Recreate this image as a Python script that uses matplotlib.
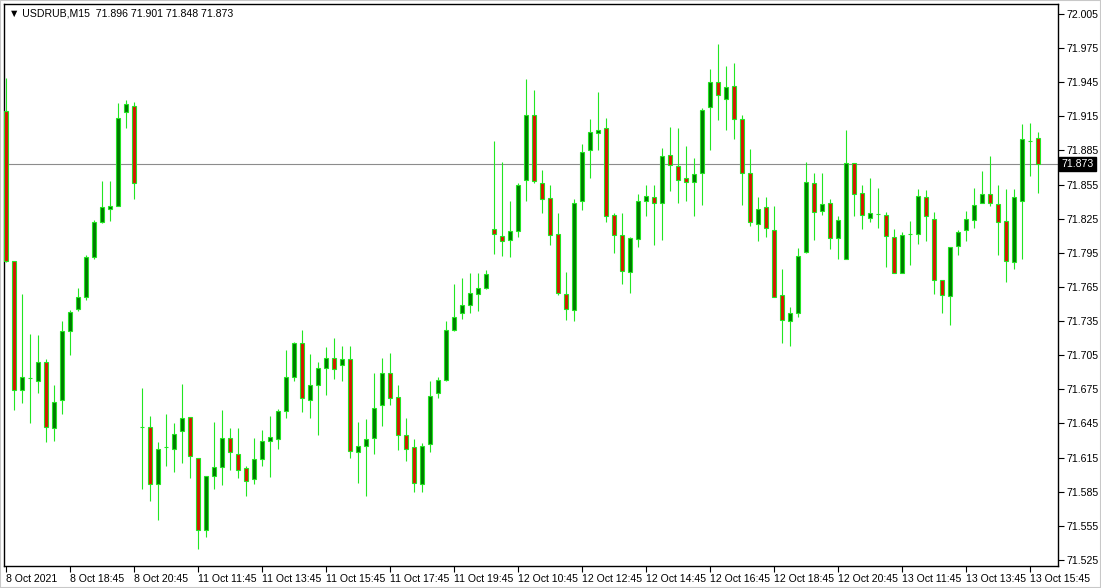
import numpy as np
import matplotlib.pyplot as plt
from matplotlib.patches import Rectangle

plt.rcParams['font.family'] = ['Liberation Sans', 'DejaVu Sans']

# USDRUB M15 bars (open, high, low, close)
opens = [71.920, 71.788, 71.674, 71.685, 71.682, 71.699, 71.641, 71.666, 71.726, 71.746,
         71.756, 71.791, 71.822, 71.834, 71.836, 71.919, 71.924, 71.642, 71.642, 71.592,
         71.624, 71.623, 71.638, 71.651, 71.615, 71.551, 71.599, 71.607, 71.632, 71.618,
         71.606, 71.596, 71.614, 71.630, 71.631, 71.656, 71.686, 71.716, 71.666, 71.679,
         71.694, 71.703, 71.696, 71.702, 71.620, 71.625, 71.632, 71.661, 71.689, 71.668,
         71.635, 71.624, 71.592, 71.627, 71.672, 71.683, 71.727, 71.742, 71.749, 71.759,
         71.764, 71.816, 71.810, 71.806, 71.814, 71.859, 71.916, 71.856, 71.843, 71.812,
         71.759, 71.745, 71.841, 71.885, 71.900, 71.905, 71.828, 71.811, 71.778, 71.807,
         71.841, 71.844, 71.839, 71.881, 71.871, 71.861, 71.857, 71.865, 71.923, 71.945,
         71.930, 71.942, 71.913, 71.865, 71.820, 71.835, 71.815, 71.758, 71.735, 71.742,
         71.796, 71.856, 71.832, 71.839, 71.808, 71.790, 71.874, 71.848, 71.826, 71.829,
         71.828, 71.809, 71.777, 71.812, 71.812, 71.844, 71.825, 71.771, 71.757, 71.801,
         71.815, 71.824, 71.839, 71.847, 71.838, 71.823, 71.787, 71.841, 71.893, 71.896]
highs = [71.949, 71.788, 71.759, 71.724, 71.723, 71.702, 71.679, 71.735, 71.745, 71.764,
         71.793, 71.824, 71.858, 71.858, 71.927, 71.929, 71.928, 71.676, 71.652, 71.629,
         71.653, 71.645, 71.680, 71.651, 71.615, 71.599, 71.646, 71.657, 71.641, 71.641,
         71.608, 71.632, 71.639, 71.652, 71.658, 71.710, 71.717, 71.727, 71.706, 71.699,
         71.712, 71.720, 71.713, 71.713, 71.646, 71.649, 71.689, 71.703, 71.707, 71.679,
         71.650, 71.631, 71.628, 71.682, 71.686, 71.735, 71.768, 71.773, 71.777, 71.777,
         71.780, 71.893, 71.875, 71.841, 71.856, 71.948, 71.938, 71.868, 71.855, 71.830,
         71.778, 71.842, 71.891, 71.913, 71.936, 71.914, 71.830, 71.830, 71.809, 71.847,
         71.855, 71.855, 71.887, 71.906, 71.905, 71.889, 71.878, 71.922, 71.957, 71.979,
         71.959, 71.962, 71.916, 71.886, 71.844, 71.844, 71.836, 71.781, 71.747, 71.799,
         71.875, 71.865, 71.865, 71.842, 71.827, 71.903, 71.874, 71.855, 71.861, 71.852,
         71.831, 71.816, 71.813, 71.823, 71.851, 71.850, 71.831, 71.771, 71.800, 71.815,
         71.832, 71.852, 71.867, 71.880, 71.855, 71.851, 71.851, 71.908, 71.909, 71.901]
lows = [71.787, 71.657, 71.663, 71.645, 71.672, 71.629, 71.630, 71.653, 71.705, 71.744,
        71.754, 71.790, 71.821, 71.823, 71.836, 71.905, 71.842, 71.587, 71.577, 71.560,
        71.608, 71.602, 71.610, 71.597, 71.535, 71.545, 71.587, 71.591, 71.604, 71.597,
        71.581, 71.592, 71.608, 71.598, 71.623, 71.650, 71.682, 71.655, 71.650, 71.635,
        71.670, 71.684, 71.682, 71.615, 71.593, 71.581, 71.618, 71.643, 71.661, 71.622,
        71.612, 71.585, 71.585, 71.620, 71.667, 71.682, 71.726, 71.737, 71.742, 71.744,
        71.763, 71.794, 71.792, 71.791, 71.809, 71.841, 71.856, 71.830, 71.802, 71.758,
        71.736, 71.735, 71.833, 71.861, 71.885, 71.822, 71.795, 71.768, 71.760, 71.800,
        71.827, 71.802, 71.806, 71.849, 71.839, 71.841, 71.827, 71.837, 71.885, 71.912,
        71.903, 71.895, 71.837, 71.819, 71.805, 71.809, 71.756, 71.716, 71.713, 71.739,
        71.795, 71.806, 71.828, 71.798, 71.790, 71.790, 71.827, 71.816, 71.822, 71.817,
        71.783, 71.777, 71.777, 71.784, 71.803, 71.805, 71.759, 71.742, 71.732, 71.793,
        71.805, 71.817, 71.839, 71.836, 71.793, 71.769, 71.781, 71.790, 71.863, 71.848]
closes = [71.788, 71.674, 71.686, 71.685, 71.699, 71.642, 71.664, 71.726, 71.743, 71.756,
          71.791, 71.822, 71.835, 71.836, 71.914, 71.926, 71.856, 71.642, 71.592, 71.623,
          71.624, 71.636, 71.650, 71.616, 71.551, 71.599, 71.607, 71.632, 71.620, 71.604,
          71.594, 71.614, 71.630, 71.633, 71.656, 71.686, 71.716, 71.667, 71.679, 71.694,
          71.703, 71.693, 71.702, 71.621, 71.625, 71.631, 71.659, 71.689, 71.667, 71.635,
          71.623, 71.593, 71.625, 71.669, 71.683, 71.727, 71.739, 71.749, 71.760, 71.764,
          71.776, 71.812, 71.805, 71.814, 71.855, 71.916, 71.858, 71.842, 71.811, 71.760,
          71.746, 71.839, 71.884, 71.901, 71.903, 71.827, 71.811, 71.779, 71.808, 71.841,
          71.845, 71.839, 71.880, 71.872, 71.859, 71.857, 71.864, 71.921, 71.945, 71.934,
          71.941, 71.913, 71.865, 71.822, 71.834, 71.817, 71.756, 71.736, 71.742, 71.792,
          71.857, 71.831, 71.838, 71.808, 71.824, 71.874, 71.847, 71.828, 71.830, 71.829,
          71.810, 71.777, 71.811, 71.812, 71.845, 71.827, 71.771, 71.758, 71.800, 71.813,
          71.825, 71.837, 71.847, 71.839, 71.822, 71.788, 71.844, 71.895, 71.893, 71.873]

time_labels = ['8 Oct 2021', '8 Oct 18:45', '8 Oct 20:45', '11 Oct 11:45', '11 Oct 13:45',
               '11 Oct 15:45', '11 Oct 17:45', '11 Oct 19:45', '12 Oct 10:45', '12 Oct 12:45',
               '12 Oct 14:45', '12 Oct 16:45', '12 Oct 18:45', '12 Oct 20:45', '13 Oct 11:45',
               '13 Oct 13:45', '13 Oct 15:45']
price_ticks = [72.005, 71.975, 71.945, 71.915, 71.885, 71.855, 71.825, 71.795, 71.765,
               71.735, 71.705, 71.675, 71.645, 71.615, 71.585, 71.555, 71.525]
last_price = 71.873

o = np.array(opens)
h = np.array(highs)
l = np.array(lows)
c = np.array(closes)
idx = np.arange(len(o))
up = c >= o

W, H = 1101, 588
fig = plt.figure(figsize=(W / 100, H / 100), dpi=100)
fig.patch.set_facecolor('white')
fig.patches.append(Rectangle((0, 0), 1, 1, transform=fig.transFigure, fill=False,
                             edgecolor='#c8c8c8', linewidth=1.5))
ax = fig.add_axes([4 / W, 22 / H, 1054 / W, 562 / H])

lime = '#22e622'
ax.axhline(last_price, color='#8c8c8c', linewidth=0.8, zorder=1)
ax.vlines(idx, l, h, color=lime, linewidth=0.8, zorder=2)
body_w = 0.62
ax.bar(idx[up], c[up] - o[up], bottom=o[up], width=body_w, color='#007a00',
       edgecolor=lime, linewidth=0.8, zorder=3)
ax.bar(idx[~up], o[~up] - c[~up], bottom=c[~up], width=body_w, color='#d41a00',
       edgecolor=lime, linewidth=0.8, zorder=3)

ax.set_xlim(-0.25, 131.5)
ax.set_ylim(71.5197, 72.0138)

ax.yaxis.tick_right()
ax.set_yticks(price_ticks)
ax.set_yticklabels(['%.3f' % p for p in price_ticks])
ax.set_xticks(idx[::8])
ax.set_xticklabels(time_labels)
for lab in ax.get_xticklabels():
    lab.set_horizontalalignment('left')
ax.tick_params(axis='both', direction='out', length=4, width=0.8, labelsize=7.6,
               colors='black')
ax.tick_params(axis='x', pad=2)
ax.tick_params(axis='y', pad=2)
for s in ax.spines.values():
    s.set_linewidth(1.0)
    s.set_color('black')

# current price marker on the right scale
ax.text(1.003, last_price, '%.3f' % last_price, transform=ax.get_yaxis_transform(),
        ha='left', va='center', fontsize=7.6, color='white',
        bbox=dict(boxstyle='square,pad=0.2', facecolor='black', edgecolor='black'))

ax.text(5 / 1054, 1 - 10 / 562, '\u25bc USDRUB,M15  71.896 71.901 71.848 71.873',
        transform=ax.transAxes, ha='left', va='center', fontsize=7.6)

fig.savefig('out.png', dpi=100)
